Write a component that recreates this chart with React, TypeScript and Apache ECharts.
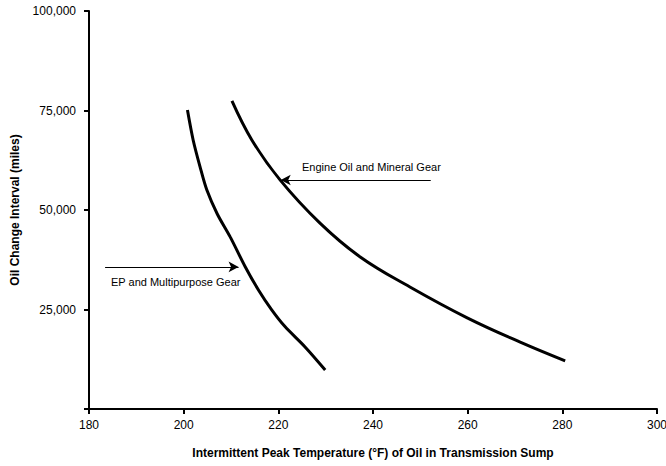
import React, { useEffect, useRef } from "react";
import * as echarts from "echarts";

const xTicks = [180, 200, 220, 240, 260, 280, 300];
const yTicks = [0, 25000, 50000, 75000, 100000];

const epGear: [number, number][] = [
  [200.8, 75100],
  [202.0, 67600],
  [203.45, 60900],
  [204.9, 55000],
  [207.1, 49000],
  [209.8, 43300],
  [213.0, 35750],
  [215.8, 29900],
  [218.6, 24900],
  [221.4, 20700],
  [225.6, 15650],
  [229.9, 9800],
];

const engineOil: [number, number][] = [
  [210.2, 77400],
  [214.4, 67600],
  [220.4, 57500],
  [228.8, 46700],
  [237.3, 38200],
  [247.8, 30650],
  [259.9, 22900],
  [271.1, 16800],
  [280.6, 12100],
];

const engineArrow: [number, number][] = [
  [252.2, 57540],
  [220.5, 57540],
];
const epArrow: [number, number][] = [
  [183.4, 35700],
  [211.6, 35700],
];

const labels = ["Engine Oil and Mineral Gear", "EP and Multipurpose Gear"];

export default function App() {
  const ref = useRef<HTMLDivElement>(null);
  useEffect(() => {
    if (!ref.current) return;
    const chart = echarts.init(ref.current, undefined, { renderer: "svg" });
    const font = "Arial, 'Liberation Sans', sans-serif";
    chart.setOption({
      animation: false,
      backgroundColor: "#fff",
      grid: {
        left: 89,
        top: 11,
        right: 9,
        bottom: 57,
        containLabel: false,
        outerBoundsMode: "none",
      },
      xAxis: {
        type: "value",
        min: xTicks[0],
        max: xTicks[xTicks.length - 1],
        interval: 20,
        name: "Intermittent Peak Temperature (°F) of Oil in Transmission Sump",
        nameLocation: "middle",
        nameGap: 38,
        nameTextStyle: { fontFamily: font, fontSize: 12, fontWeight: "bold", color: "#000" },
        axisLine: { lineStyle: { color: "#000", width: 2 } },
        axisTick: { length: 5, lineStyle: { color: "#000", width: 2 } },
        axisLabel: { fontFamily: font, fontSize: 12, color: "#000", margin: 10 },
        splitLine: { show: false },
      },
      yAxis: {
        type: "value",
        min: yTicks[0],
        max: yTicks[yTicks.length - 1],
        interval: 25000,
        name: "Oil Change Interval (miles)",
        nameLocation: "middle",
        nameGap: 68,
        nameTextStyle: { fontFamily: font, fontSize: 12, fontWeight: "bold", color: "#000" },
        axisLine: { show: true, lineStyle: { color: "#000", width: 2 } },
        axisTick: { show: true, length: 5, lineStyle: { color: "#000", width: 2 } },
        axisLabel: {
          fontFamily: font,
          fontSize: 12,
          color: "#000",
          margin: 13,
          formatter: (v: number) => (v === 0 ? "" : v.toLocaleString("en-US")),
        },
        splitLine: { show: false },
      },
      series: [
        {
          type: "line",
          name: "EP and Multipurpose Gear",
          data: epGear,
          smooth: 0.3,
          symbol: "none",
          lineStyle: { color: "#000", width: 3 },
        },
        {
          type: "line",
          name: "Engine Oil and Mineral Gear",
          data: engineOil,
          smooth: 0.4,
          symbol: "none",
          lineStyle: { color: "#000", width: 3 },
        },
        {
          type: "line",
          data: [],
          symbol: "none",
          markLine: {
            silent: true,
            symbol: ["none", "arrow"],
            symbolSize: [8, 10],
            lineStyle: { color: "#000", width: 1, type: "solid" },
            label: { show: false },
            data: [
              [{ coord: engineArrow[0] }, { coord: engineArrow[1] }],
              [{ coord: epArrow[0] }, { coord: epArrow[1] }],
            ],
          },
        },
      ],
      graphic: [
        {
          type: "text",
          left: 302,
          top: 161,
          style: { text: labels[0], fontFamily: font, fontSize: 11, fill: "#000" },
        },
        {
          type: "text",
          left: 111,
          top: 276,
          style: { text: labels[1], fontFamily: font, fontSize: 11, fill: "#000" },
        },
      ],
    });
    return () => chart.dispose();
  }, []);
  return (
    <div
      ref={ref}
      style={{ position: "fixed", left: 0, top: 0, width: 666, height: 466 }}
    />
  );
}
